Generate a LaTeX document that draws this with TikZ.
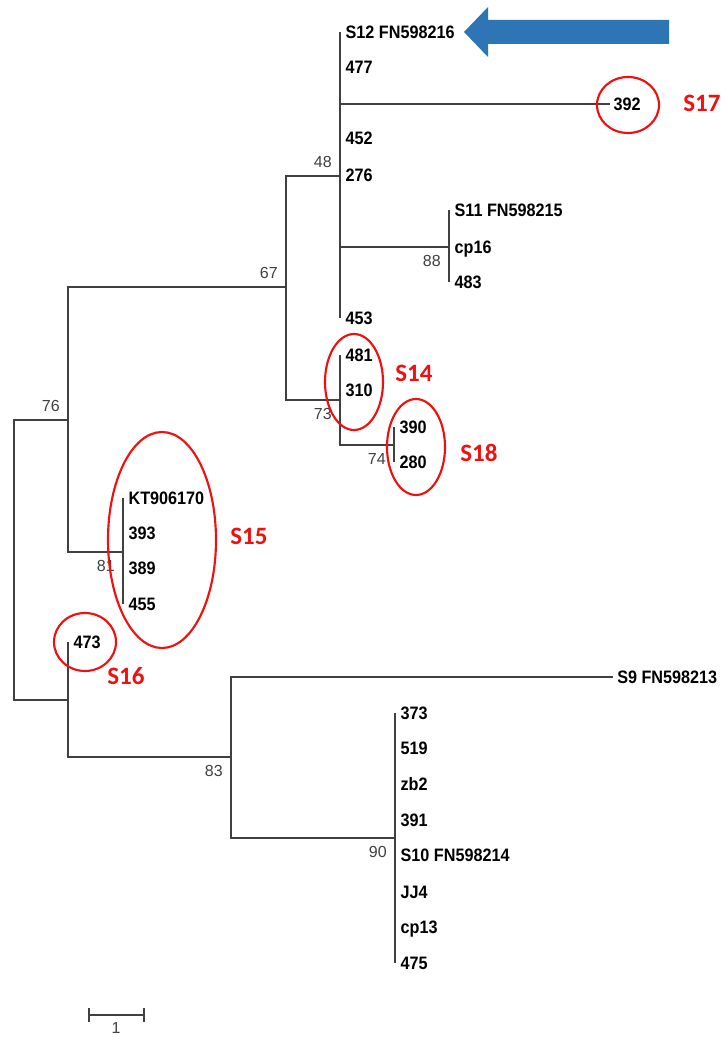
\documentclass[tikz,border=0pt]{standalone}
\usepackage{fontspec}
\setmainfont{Liberation Sans}
\newfontfamily\taxonfont[FakeStretch=0.9]{Liberation Sans}
\newfontfamily\markfont{Carlito}
\usetikzlibrary{positioning, shapes.geometric}
\definecolor{branchcolor}{HTML}{404040}
\definecolor{ringcolor}{HTML}{F01010}
\definecolor{pointercolor}{HTML}{2E75B6}

\begin{document}
\begin{tikzpicture}[x=0.75pt, y=-0.75pt,
    node distance=5pt and 5pt,
    branch/.style={draw=branchcolor, line width=1.3pt},
    taxon/.style={anchor=west, inner sep=0pt, inner xsep=4pt, text height=9.7pt,
                  text depth=0pt, text=black,
                  font=\taxonfont\bfseries\fontsize{13.5}{14}\selectfont},
    boot/.style={inner sep=1pt, text=branchcolor, font=\fontsize{12}{12}\selectfont},
    ring/.style={ellipse, draw=ringcolor, line width=1.6pt, inner sep=0pt},
    tag/.style={anchor=west, inner sep=0pt, text height=12pt, text depth=0pt,
                text=ringcolor, font=\markfont\bfseries\fontsize{18.75}{19}\selectfont}
]
    \path[use as bounding box, fill=white] (0,0) rectangle (720,1037);

    % internal nodes
    \coordinate (root) at (14,560);
    \coordinate (n76) at (68,420);
    \coordinate (n67) at (286,287);
    \coordinate (n48) at (340,176);
    \coordinate (n88) at (449,247);
    \coordinate (n73) at (340,400);
    \coordinate (n74) at (394,445);
    \coordinate (n81) at (123,552);
    \coordinate (nlow) at (68,700);
    \coordinate (n83) at (231,757);
    \coordinate (n90) at (395,838);

    % upper clade
    \node[taxon] (tS12) at (340,32) {S12 FN598216};
    \node[taxon] (t477) at (340,67) {477};
    \node[taxon, inner xsep=2.5pt] (t392) at (610,104) {392};
    \node[taxon] (t452) at (340,138) {452};
    \node[taxon] (t276) at (340,175) {276};
    \node[taxon] (t453) at (340,318) {453};
    \node[taxon] (tS11) at (449,210) {S11 FN598215};
    \node[taxon] (tcp16) at (449,247) {cp16};
    \node[taxon] (t483) at (449,282) {483};
    \node[taxon] (t481) at (340,355) {481};
    \node[taxon] (t310) at (340,390) {310};
    \node[taxon] (t390) at (394,427) {390};
    \node[taxon] (t280) at (394,462) {280};

    % middle clade
    \node[taxon] (tKT) at (123,498) {KT906170};
    \node[taxon] (t393) at (123,533) {393};
    \node[taxon] (t389) at (123,568) {389};
    \node[taxon] (t455) at (123,604) {455};
    \node[taxon] (t473) at (68,642) {473};

    % lower clade
    \node[taxon, inner xsep=3pt] (tS9) at (613,677) {S9 FN598213};
    \node[taxon] (t373) at (395,713) {373};
    \node[taxon] (t519) at (395,748) {519};
    \node[taxon] (tzb2) at (395,784) {zb2};
    \node[taxon] (t391) at (395,820) {391};
    \node[taxon] (tS10) at (395,855) {S10 FN598214};
    \node[taxon] (tJJ4) at (395,892) {JJ4};
    \node[taxon] (tcp13) at (395,927) {cp13};
    \node[taxon] (t475) at (395,963) {475};

    % branches
    \draw[branch] (root) |- (n76);
    \draw[branch] (root) |- (nlow);
    \draw[branch] (n76) |- (n67);
    \draw[branch] (n76) |- (n81);
    \draw[branch] (n67) |- (n48);
    \draw[branch] (n67) |- (n73);
    \draw[branch] (n48) |- (tS12.west);
    \draw[branch] (n48) |- (t477.west);
    \draw[branch] (n48) |- (t392.west);
    \draw[branch] (n48) |- (t452.west);
    \draw[branch] (n48) |- (t276.west);
    \draw[branch] (n48) |- (n88);
    \draw[branch] (n48) |- (t453.west);
    \draw[branch] (n88) |- (tS11.west);
    \draw[branch] (n88) |- (tcp16.west);
    \draw[branch] (n88) |- (t483.west);
    \draw[branch] (n73) |- (t481.west);
    \draw[branch] (n73) |- (t310.west);
    \draw[branch] (n73) |- (n74);
    \draw[branch] (n74) |- (t390.west);
    \draw[branch] (n74) |- (t280.west);
    \draw[branch] (n81) |- (tKT.west);
    \draw[branch] (n81) |- (t393.west);
    \draw[branch] (n81) |- (t389.west);
    \draw[branch] (n81) |- (t455.west);
    \draw[branch] (nlow) |- (t473.west);
    \draw[branch] (nlow) |- (n83);
    \draw[branch] (n83) |- (tS9.west);
    \draw[branch] (n83) |- (n90);
    \draw[branch] (n90) |- (t373.west);
    \draw[branch] (n90) |- (t519.west);
    \draw[branch] (n90) |- (tzb2.west);
    \draw[branch] (n90) |- (t391.west);
    \draw[branch] (n90) |- (tS10.west);
    \draw[branch] (n90) |- (tJJ4.west);
    \draw[branch] (n90) |- (tcp13.west);
    \draw[branch] (n90) |- (t475.west);

    % bootstrap values
    \node[boot, above left=5pt and 5pt of n48] (b48) {48};
    \node[boot, above left=5pt and 5pt of n67] (b67) {67};
    \node[boot, above left=5pt and 5pt of n76] (b76) {76};
    \node[boot, below left=5pt and 5pt of n73] (b73) {73};
    \node[boot, below left=5pt and 5pt of n74] (b74) {74};
    \node[boot, below left=5pt and 5pt of n88] (b88) {88};
    \node[boot, below left=5pt and 5pt of n81] (b81) {81};
    \node[boot, below left=5pt and 5pt of n83] (b83) {83};
    \node[boot, below left=5pt and 5pt of n90] (b90) {90};

    % marked groups
    \node[ring, minimum width=46.5pt, minimum height=42pt] (ring17) at (628,105) {};
    \node[ring, minimum width=43.5pt, minimum height=72pt] (ring14) at (354,382) {};
    \node[ring, minimum width=43.5pt, minimum height=72pt] (ring18) at (416,447) {};
    \node[ring, minimum width=81pt, minimum height=162pt] (ring15) at (162,540) {};
    \node[ring, minimum width=46.5pt, minimum height=43.5pt] (ring16) at (85,642) {};
    \node[tag] (tag17) at (683,104) {S17};
    \node[tag] (tag14) at (395,373) {S14};
    \node[tag] (tag18) at (460,453) {S18};
    \node[tag] (tag15) at (230,536) {S15};
    \node[tag] (tag16) at (107,676) {S16};

    % pointer to S12
    \fill[pointercolor] (669,20) -- (488,20) -- (488,7) -- (464,32)
        -- (488,57) -- (488,44) -- (669,44) -- cycle;

    % scale bar
    \coordinate (barL) at (89,1015);
    \coordinate (barR) at (144,1015);
    \draw[branch, line width=1pt] (barL) -- (barR);
    \draw[branch, line width=1pt] ([yshift=5pt]barL) -- ([yshift=-5pt]barL);
    \draw[branch, line width=1pt] ([yshift=5pt]barR) -- ([yshift=-5pt]barR);
    \node[boot] (barval) at (116,1028) {1};
\end{tikzpicture}
\end{document}
